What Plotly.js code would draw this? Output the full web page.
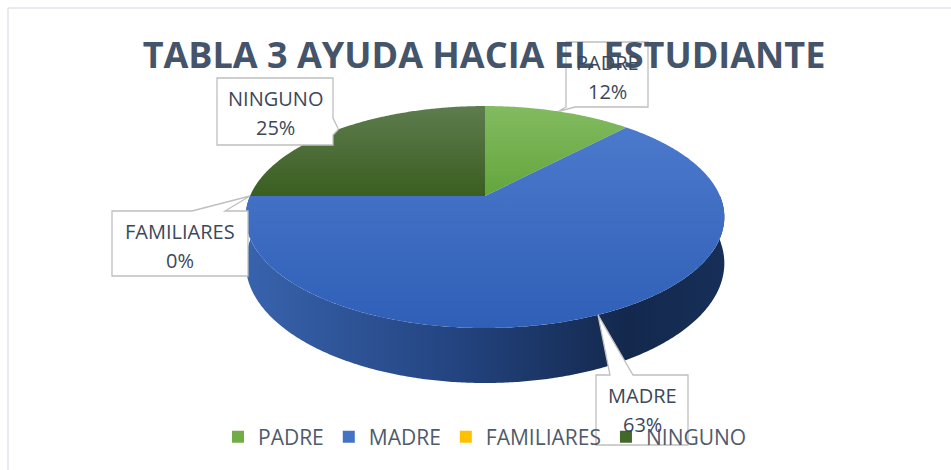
<!DOCTYPE html>
<html><head><meta charset="utf-8">
<script src="https://cdn.plot.ly/plotly-3.0.1.min.js"></script>
<style>html,body{margin:0;padding:0;background:#fff;}#chart{width:951px;height:470px;}</style>
</head><body><div id="chart"></div>
<script>
// ---- data ----
const categories = ['PADRE', 'MADRE', 'FAMILIARES', 'NINGUNO'];
const values = [12, 63, 0, 25];
const chartTitle = 'TABLA 3 AYUDA HACIA EL ESTUDIANTE';

// ---- styles ----
const legendColors = ['#70ad47', '#4472c4', '#ffc000', '#43682b'];
// vertical gradients: 0 = bottom of the shape, 1 = top
const topScales = [
  [[0, '#64a53c'], [1, '#82bb60']],
  [[0, '#2f5fb7'], [1, '#4b79cc']],
  [[0, '#ffc000'], [1, '#ffc000']],
  [[0, '#3a5e21'], [1, '#5e7c4e']]
];
const sideScales = [
  [[0, '#5a8c3a'], [1, '#2f4d1c']],
  [[0, '#3863ad'], [0.45, '#23437f'], [0.8, '#13284c'], [1, '#172f58']],
  [[0, '#c09000'], [1, '#806000']],
  [[0, '#2e4a1b'], [1, '#1c2e10']]
];
// callout boxes: [x0, y0, x1, y1, side, b1, b2]
const boxes = [
  [566, 42, 648, 107, 'bottom', 566, 575],
  [596, 375, 688, 445, 'top', 610, 633],
  [112, 211, 248, 276, 'top', 192, 225],
  [217, 78, 333, 145, 'right', 118, 135]
];

// ---- geometry (perspective tilted pie) ----
const CX = 485, CY = 196, R = 235, RY = 107, D = 5.28, H = 44.6;
function proj(deg, drop) {
  const t = deg * Math.PI / 180;
  const u = Math.sin(t), w = -Math.cos(t);
  const f = D / (D - w);
  return [CX + R * u * f, CY + (RY * w + (drop || 0)) * f];
}
const total = values.reduce((a, b) => a + b, 0);
const starts = [], ends = [];
let acc = 0;
values.forEach(v => { starts.push(acc / total * 360); acc += v; ends.push(acc / total * 360); });

const traces = [];
// side walls (front visible half 90..270)
values.forEach((v, i) => {
  if (v <= 0) return;
  const a0 = Math.max(starts[i], 90), a1 = Math.min(ends[i], 270);
  if (a1 <= a0) return;
  const xs = [], ys = [];
  for (let a = a0; a <= a1 + 1e-9; a += 0.5) { const p = proj(a, 0); xs.push(p[0]); ys.push(p[1]); }
  for (let a = a1; a >= a0 - 1e-9; a -= 0.5) { const p = proj(a, H); xs.push(p[0]); ys.push(p[1]); }
  traces.push({x: xs, y: ys, mode: 'none', fill: 'toself', showlegend: false, hoverinfo: 'skip',
    fillcolor: legendColors[i], fillgradient: {type: 'horizontal', colorscale: sideScales[i]}});
});
// top faces
values.forEach((v, i) => {
  if (v <= 0) return;
  const xs = [CX], ys = [CY];
  for (let a = starts[i]; a <= ends[i] + 1e-9; a += 0.5) { const p = proj(a, 0); xs.push(p[0]); ys.push(p[1]); }
  const pe = proj(ends[i], 0); xs.push(pe[0]); ys.push(pe[1]);
  xs.push(CX); ys.push(CY);
  traces.push({x: xs, y: ys, mode: 'none', fill: 'toself', showlegend: false, hoverinfo: 'skip',
    fillcolor: legendColors[i], fillgradient: {type: 'vertical', colorscale: topScales[i]}});
});
// legend entries
categories.forEach((c, i) => {
  traces.push({x: [null], y: [null], mode: 'markers', name: c,
    marker: {symbol: 'square', size: 12, color: legendColors[i]}});
});

// callouts
const shapes = [
  {type: 'line', xref: 'paper', yref: 'paper', x0: 8/951, x1: 1, y0: 1 - 8/470, y1: 1 - 8/470, line: {color: '#dfe3e8', width: 1.5}},
  {type: 'line', xref: 'paper', yref: 'paper', x0: 8/951, x1: 8/951, y0: 0, y1: 1 - 8/470, line: {color: '#dfe3e8', width: 1.5}}
];
const annotations = [];
categories.forEach((c, i) => {
  const mid = (starts[i] + ends[i]) / 2;
  const tip = proj(mid, 0);
  const [x0, y0, x1, y1, side, b1, b2] = boxes[i];
  let path;
  if (side === 'bottom') {
    path = `M${x0},${y0} L${x1},${y0} L${x1},${y1} L${b2},${y1} L${tip[0]},${tip[1]} L${b1},${y1} L${x0},${y1} Z`;
  } else if (side === 'top') {
    path = `M${x0},${y0} L${b1},${y0} L${tip[0]},${tip[1]} L${b2},${y0} L${x1},${y0} L${x1},${y1} L${x0},${y1} Z`;
  } else {
    path = `M${x0},${y0} L${x1},${y0} L${x1},${b1} L${tip[0]},${tip[1]} L${x1},${b2} L${x1},${y1} L${x0},${y1} Z`;
  }
  shapes.push({type: 'path', xref: 'x', yref: 'y', path: path, fillcolor: '#ffffff',
    line: {color: '#bfbfbf', width: 1.3}, layer: 'above'});
  const cx = (x0 + x1) / 2;
  const pct = Math.round(values[i] / total * 100) + '%';
  annotations.push({x: cx, y: y0 + 20, xref: 'x', yref: 'y', text: c, showarrow: false,
    xanchor: 'center', yanchor: 'middle', font: {family: 'Open Sans', size: 20, color: '#3c485a'}});
  annotations.push({x: cx, y: y0 + 49, xref: 'x', yref: 'y', text: pct, showarrow: false,
    xanchor: 'center', yanchor: 'middle', font: {family: 'Open Sans', size: 20, color: '#3c485a'}});
});

const layout = {
  width: 951, height: 470,
  margin: {l: 0, r: 0, t: 0, b: 0},
  paper_bgcolor: '#ffffff', plot_bgcolor: '#ffffff',
  title: {text: '<b>' + chartTitle + '</b>', x: 484/951, xanchor: 'center', xref: 'paper',
    y: 1 - 55/470, yanchor: 'middle', yref: 'paper',
    font: {family: 'Open Sans', size: 36, color: '#44546a'}},
  xaxis: {range: [0, 951], visible: false, fixedrange: true},
  yaxis: {range: [470, 0], visible: false, fixedrange: true},
  showlegend: true,
  legend: {orientation: 'h', x: 218/951, xanchor: 'left', y: 1 - 437/470, yanchor: 'middle',
    font: {family: 'Open Sans', size: 21, color: '#4f5b6b'}, bgcolor: 'rgba(0,0,0,0)', itemwidth: 30},
  shapes: shapes,
  annotations: annotations,
  hovermode: false
};
Plotly.newPlot('chart', traces, layout, {displayModeBar: false, staticPlot: true});
</script></body></html>
